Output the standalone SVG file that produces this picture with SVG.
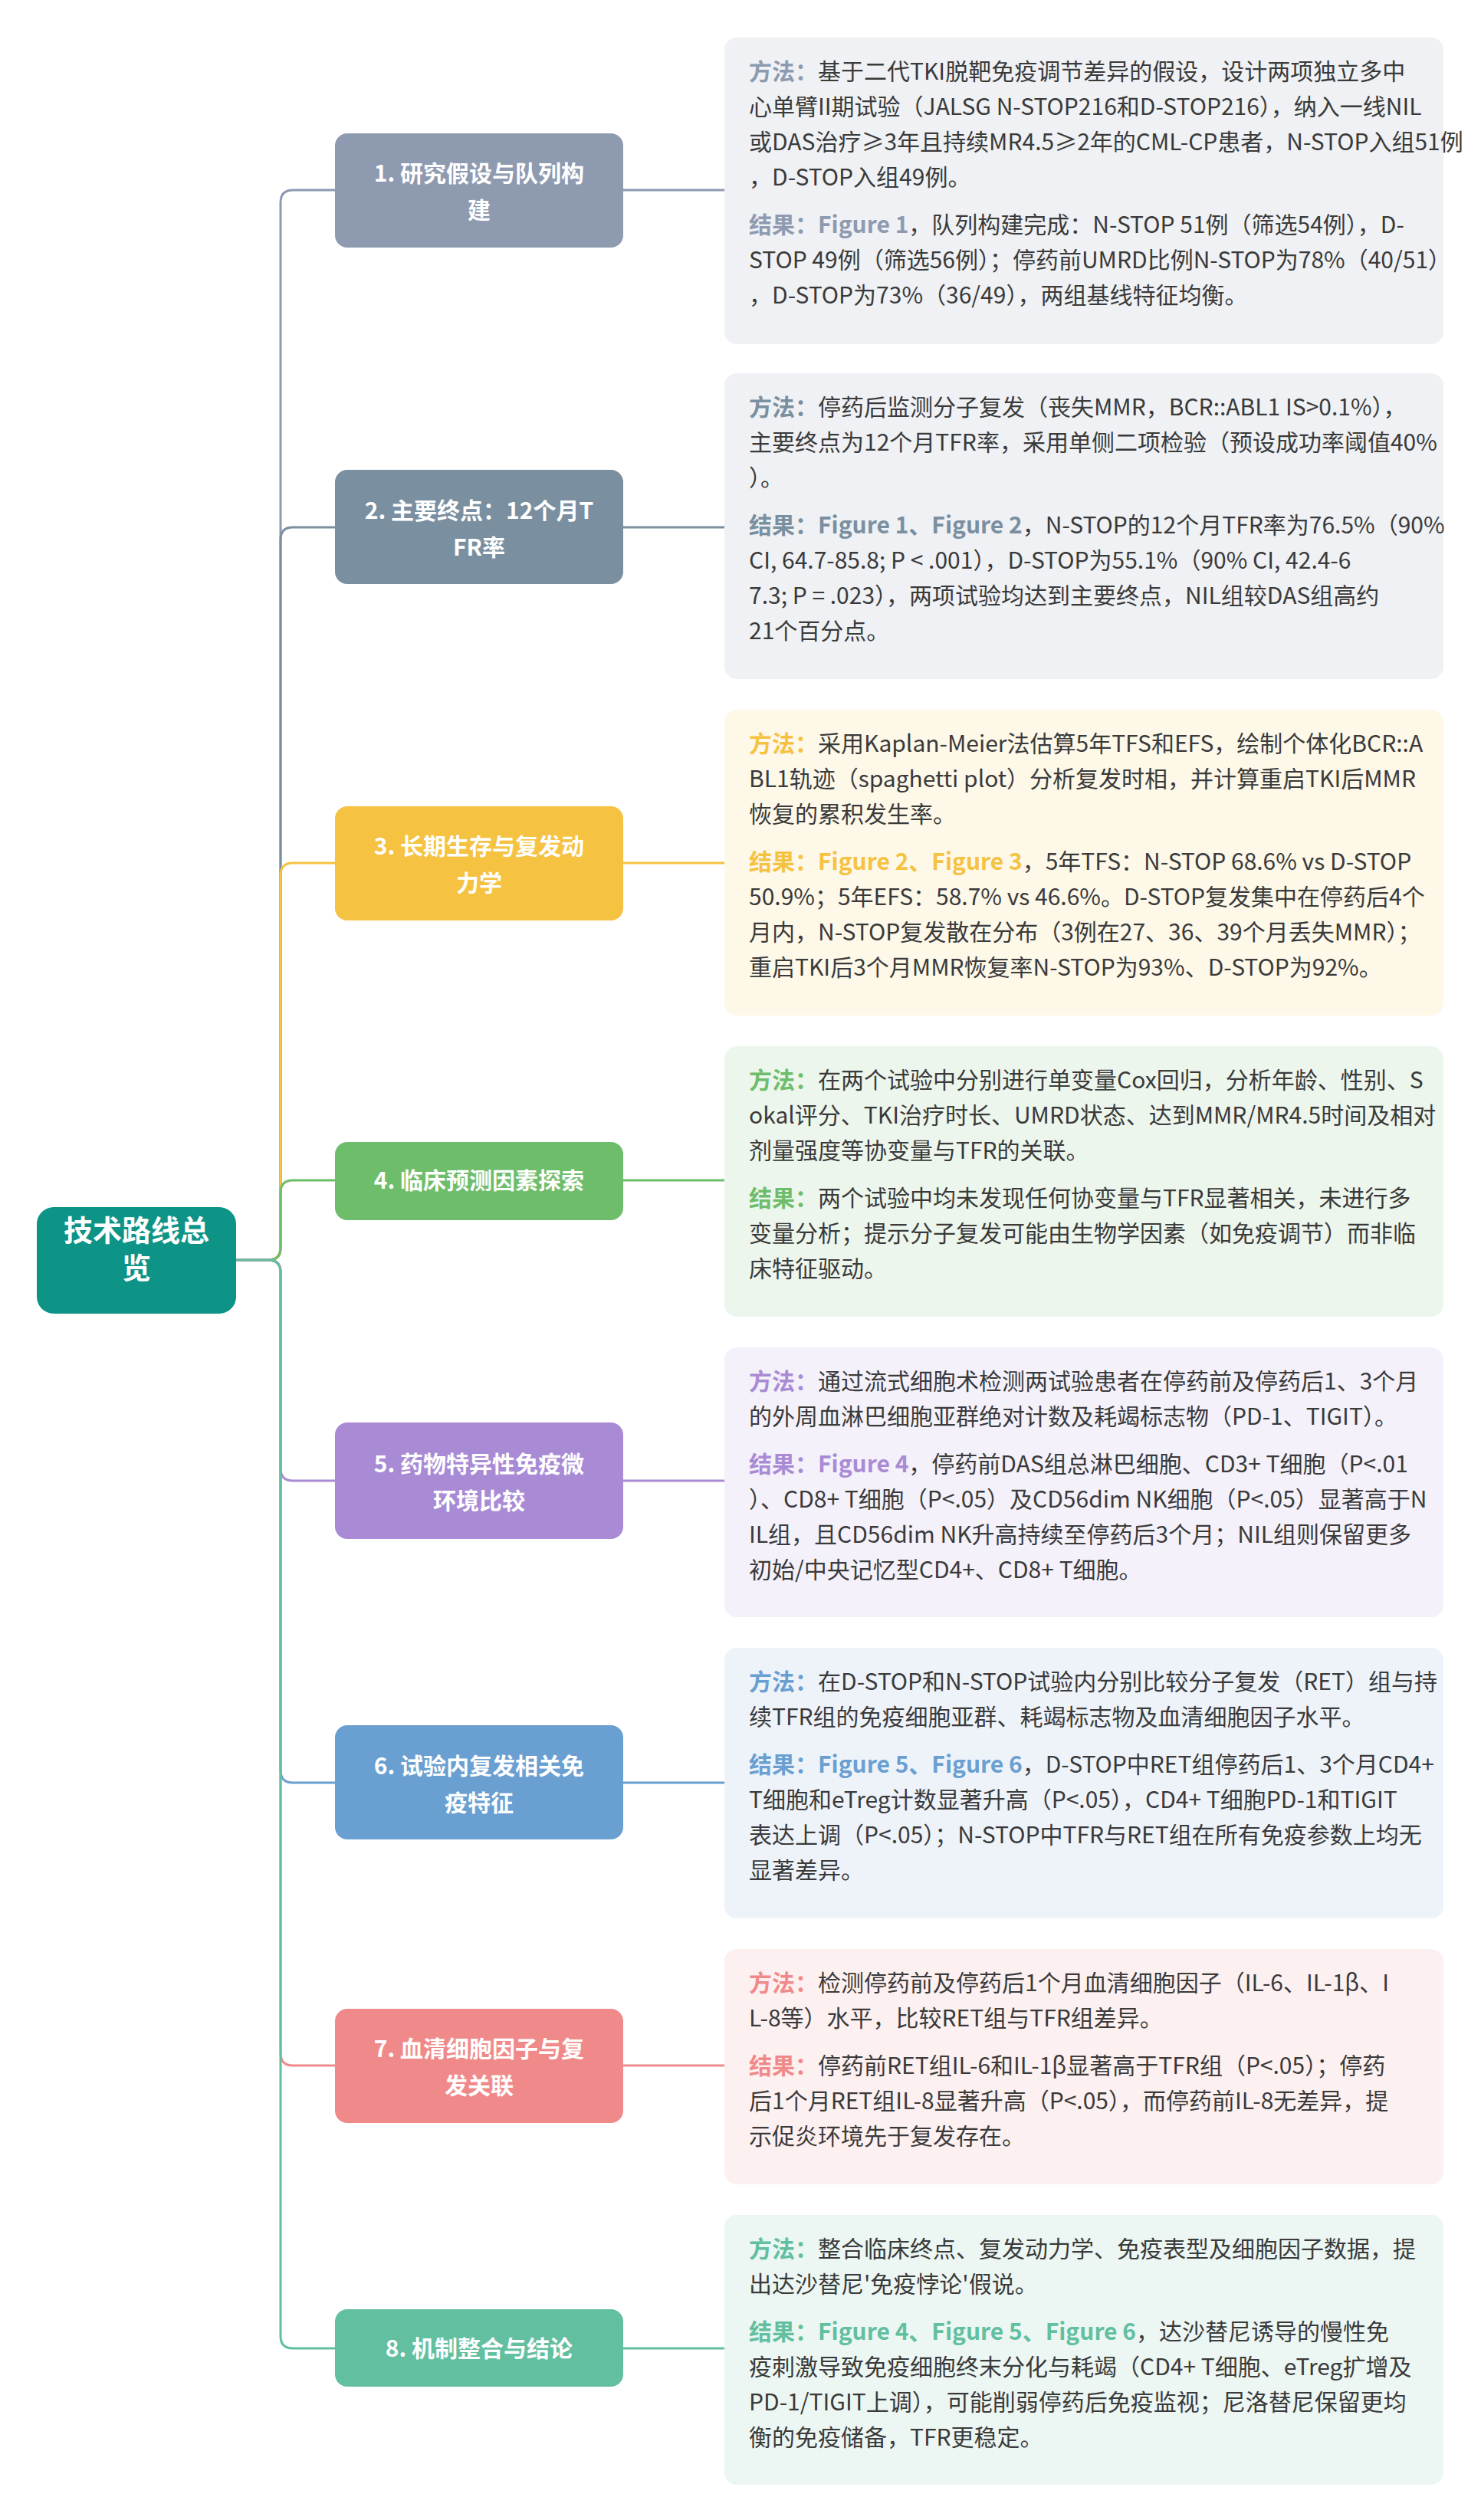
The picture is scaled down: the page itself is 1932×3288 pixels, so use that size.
<svg xmlns="http://www.w3.org/2000/svg" width="1932" height="3288" viewBox="0 0 1932 3288">
<style>
.t{font-family:"Noto Sans CJK SC","Noto Sans",sans-serif;font-size:30px;fill:#3a3a3a}
.n{font-family:"Noto Sans CJK SC","Noto Sans",sans-serif;font-size:30px;font-weight:bold;fill:#fff;text-anchor:middle}
.b{font-weight:bold}
.c path{fill:none;stroke-width:3}
</style>
<rect width="1932" height="3288" fill="#fff"/>
<g class="c" id="connectors">
<path d="M307,1644 H350 Q366,1644 366,1628 V264 Q366,248 382,248 H437 M813,248 H945" stroke="#8e9ab0"/>
<path d="M307,1644 H350 Q366,1644 366,1628 V704 Q366,688 382,688 H437 M813,688 H945" stroke="#7a8fa0"/>
<path d="M307,1644 H350 Q366,1644 366,1628 V1142 Q366,1126 382,1126 H437 M813,1126 H945" stroke="#f5c242"/>
<path d="M307,1644 H350 Q366,1644 366,1628 V1556 Q366,1540 382,1540 H437 M813,1540 H945" stroke="#6dbd6b"/>
<path d="M307,1644 H350 Q366,1644 366,1660 V1916 Q366,1932 382,1932 H437 M813,1932 H945" stroke="#a98bd5"/>
<path d="M307,1644 H350 Q366,1644 366,1660 V2310 Q366,2326 382,2326 H437 M813,2326 H945" stroke="#6a9fd1"/>
<path d="M307,1644 H350 Q366,1644 366,1660 V2679 Q366,2695 382,2695 H437 M813,2695 H945" stroke="#f08a8a"/>
<path d="M307,1644 H350 Q366,1644 366,1660 V3048 Q366,3064 382,3064 H437 M813,3064 H945" stroke="#62bfa0"/>
</g>
<g id="root"><rect x="48" y="1575" width="260" height="139" rx="22" fill="#0e9486"/>
<text class="n" style="font-size:38px" x="178" y="1619">技术路线总</text><text class="n" style="font-size:38px" x="178" y="1668">览</text></g>
<g id="n1"><rect x="437" y="174" width="376" height="149" rx="16" fill="#8e9ab0"/><text class="n" x="625" y="237">1. 研究假设与队列构</text><text class="n" x="625" y="285">建</text></g>
<g id="n2"><rect x="437" y="613" width="376" height="149" rx="16" fill="#7a8fa0"/><text class="n" x="625" y="677">2. 主要终点：12个月T</text><text class="n" x="625" y="725">FR率</text></g>
<g id="n3"><rect x="437" y="1052" width="376" height="149" rx="16" fill="#f5c242"/><text class="n" x="625" y="1115">3. 长期生存与复发动</text><text class="n" x="625" y="1163">力学</text></g>
<g id="n4"><rect x="437" y="1490" width="376" height="102" rx="16" fill="#6dbd6b"/><text class="n" x="625" y="1551">4. 临床预测因素探索</text></g>
<g id="n5"><rect x="437" y="1856" width="376" height="152" rx="16" fill="#a98bd5"/><text class="n" x="625" y="1921">5. 药物特异性免疫微</text><text class="n" x="625" y="1969">环境比较</text></g>
<g id="n6"><rect x="437" y="2251" width="376" height="149" rx="16" fill="#6a9fd1"/><text class="n" x="625" y="2315">6. 试验内复发相关免</text><text class="n" x="625" y="2363">疫特征</text></g>
<g id="n7"><rect x="437" y="2621" width="376" height="149" rx="16" fill="#f08a8a"/><text class="n" x="625" y="2684">7. 血清细胞因子与复</text><text class="n" x="625" y="2732">发关联</text></g>
<g id="n8"><rect x="437" y="3013" width="376" height="101" rx="16" fill="#62bfa0"/><text class="n" x="625" y="3075">8. 机制整合与结论</text></g>

<g id="p1"><rect x="945" y="49" width="938" height="400" rx="16" fill="#eff1f4"/>
<text class="t" x="977" y="104"><tspan class="b" fill="#8e9ab0">方法：</tspan>基于二代TKI脱靶免疫调节差异的假设，设计两项独立多中</text>
<text class="t" x="977" y="150">心单臂II期试验（JALSG N-STOP216和D-STOP216），纳入一线NIL</text>
<text class="t" x="977" y="196">或DAS治疗≥3年且持续MR4.5≥2年的CML-CP患者，N-STOP入组51例</text>
<text class="t" x="977" y="242">，D-STOP入组49例。</text>
<text class="t" x="977" y="304"><tspan class="b" fill="#8e9ab0">结果：Figure 1</tspan>，队列构建完成：N-STOP 51例（筛选54例），D-</text>
<text class="t" x="977" y="350">STOP 49例（筛选56例）；停药前UMRD比例N-STOP为78%（40/51）</text>
<text class="t" x="977" y="396">，D-STOP为73%（36/49），两组基线特征均衡。</text></g>

<g id="p2"><rect x="945" y="487" width="938" height="399" rx="16" fill="#eff1f4"/>
<text class="t" x="977" y="542"><tspan class="b" fill="#7a8fa0">方法：</tspan>停药后监测分子复发（丧失MMR，BCR::ABL1 IS&gt;0.1%），</text>
<text class="t" x="977" y="588">主要终点为12个月TFR率，采用单侧二项检验（预设成功率阈值40%</text>
<text class="t" x="977" y="634">）。</text>
<text class="t" x="977" y="696"><tspan class="b" fill="#7a8fa0">结果：Figure 1、Figure 2</tspan>，N-STOP的12个月TFR率为76.5%（90%</text>
<text class="t" x="977" y="742">CI, 64.7-85.8; P &lt; .001），D-STOP为55.1%（90% CI, 42.4-6</text>
<text class="t" x="977" y="788">7.3; P = .023），两项试验均达到主要终点，NIL组较DAS组高约</text>
<text class="t" x="977" y="834">21个百分点。</text></g>

<g id="p3"><rect x="945" y="926" width="938" height="399" rx="16" fill="#fdf8e8"/>
<text class="t" x="977" y="981"><tspan class="b" fill="#f5c242">方法：</tspan>采用Kaplan-Meier法估算5年TFS和EFS，绘制个体化BCR::A</text>
<text class="t" x="977" y="1027">BL1轨迹（spaghetti plot）分析复发时相，并计算重启TKI后MMR</text>
<text class="t" x="977" y="1073">恢复的累积发生率。</text>
<text class="t" x="977" y="1135"><tspan class="b" fill="#f5c242">结果：Figure 2、Figure 3</tspan>，5年TFS：N-STOP 68.6% vs D-STOP</text>
<text class="t" x="977" y="1181">50.9%；5年EFS：58.7% vs 46.6%。D-STOP复发集中在停药后4个</text>
<text class="t" x="977" y="1227">月内，N-STOP复发散在分布（3例在27、36、39个月丢失MMR）；</text>
<text class="t" x="977" y="1273">重启TKI后3个月MMR恢复率N-STOP为93%、D-STOP为92%。</text></g>

<g id="p4"><rect x="945" y="1365" width="938" height="353" rx="16" fill="#edf6ec"/>
<text class="t" x="977" y="1420"><tspan class="b" fill="#6dbd6b">方法：</tspan>在两个试验中分别进行单变量Cox回归，分析年龄、性别、S</text>
<text class="t" x="977" y="1466">okal评分、TKI治疗时长、UMRD状态、达到MMR/MR4.5时间及相对</text>
<text class="t" x="977" y="1512">剂量强度等协变量与TFR的关联。</text>
<text class="t" x="977" y="1574"><tspan class="b" fill="#6dbd6b">结果：</tspan>两个试验中均未发现任何协变量与TFR显著相关，未进行多</text>
<text class="t" x="977" y="1620">变量分析；提示分子复发可能由生物学因素（如免疫调节）而非临</text>
<text class="t" x="977" y="1666">床特征驱动。</text></g>

<g id="p5"><rect x="945" y="1758" width="938" height="352" rx="16" fill="#f4f1fa"/>
<text class="t" x="977" y="1813"><tspan class="b" fill="#a98bd5">方法：</tspan>通过流式细胞术检测两试验患者在停药前及停药后1、3个月</text>
<text class="t" x="977" y="1859">的外周血淋巴细胞亚群绝对计数及耗竭标志物（PD-1、TIGIT）。</text>
<text class="t" x="977" y="1921"><tspan class="b" fill="#a98bd5">结果：Figure 4</tspan>，停药前DAS组总淋巴细胞、CD3+ T细胞（P&lt;.01</text>
<text class="t" x="977" y="1967">）、CD8+ T细胞（P&lt;.05）及CD56dim NK细胞（P&lt;.05）显著高于N</text>
<text class="t" x="977" y="2013">IL组，且CD56dim NK升高持续至停药后3个月；NIL组则保留更多</text>
<text class="t" x="977" y="2059">初始/中央记忆型CD4+、CD8+ T细胞。</text></g>

<g id="p6"><rect x="945" y="2150" width="938" height="353" rx="16" fill="#eef3fa"/>
<text class="t" x="977" y="2205"><tspan class="b" fill="#6a9fd1">方法：</tspan>在D-STOP和N-STOP试验内分别比较分子复发（RET）组与持</text>
<text class="t" x="977" y="2251">续TFR组的免疫细胞亚群、耗竭标志物及血清细胞因子水平。</text>
<text class="t" x="977" y="2313"><tspan class="b" fill="#6a9fd1">结果：Figure 5、Figure 6</tspan>，D-STOP中RET组停药后1、3个月CD4+</text>
<text class="t" x="977" y="2359">T细胞和eTreg计数显著升高（P&lt;.05），CD4+ T细胞PD-1和TIGIT</text>
<text class="t" x="977" y="2405">表达上调（P&lt;.05）；N-STOP中TFR与RET组在所有免疫参数上均无</text>
<text class="t" x="977" y="2451">显著差异。</text></g>

<g id="p7"><rect x="945" y="2543" width="938" height="307" rx="16" fill="#fdf0f0"/>
<text class="t" x="977" y="2598"><tspan class="b" fill="#f08a8a">方法：</tspan>检测停药前及停药后1个月血清细胞因子（IL-6、IL-1β、I</text>
<text class="t" x="977" y="2644">L-8等）水平，比较RET组与TFR组差异。</text>
<text class="t" x="977" y="2706"><tspan class="b" fill="#f08a8a">结果：</tspan>停药前RET组IL-6和IL-1β显著高于TFR组（P&lt;.05）；停药</text>
<text class="t" x="977" y="2752">后1个月RET组IL-8显著升高（P&lt;.05），而停药前IL-8无差异，提</text>
<text class="t" x="977" y="2798">示促炎环境先于复发存在。</text></g>

<g id="p8"><rect x="945" y="2890" width="938" height="352" rx="16" fill="#ecf6f2"/>
<text class="t" x="977" y="2945"><tspan class="b" fill="#62bfa0">方法：</tspan>整合临床终点、复发动力学、免疫表型及细胞因子数据，提</text>
<text class="t" x="977" y="2991">出达沙替尼'免疫悖论'假说。</text>
<text class="t" x="977" y="3053"><tspan class="b" fill="#62bfa0">结果：Figure 4、Figure 5、Figure 6</tspan>，达沙替尼诱导的慢性免</text>
<text class="t" x="977" y="3099">疫刺激导致免疫细胞终末分化与耗竭（CD4+ T细胞、eTreg扩增及</text>
<text class="t" x="977" y="3145">PD-1/TIGIT上调），可能削弱停药后免疫监视；尼洛替尼保留更均</text>
<text class="t" x="977" y="3191">衡的免疫储备，TFR更稳定。</text></g>
</svg>
